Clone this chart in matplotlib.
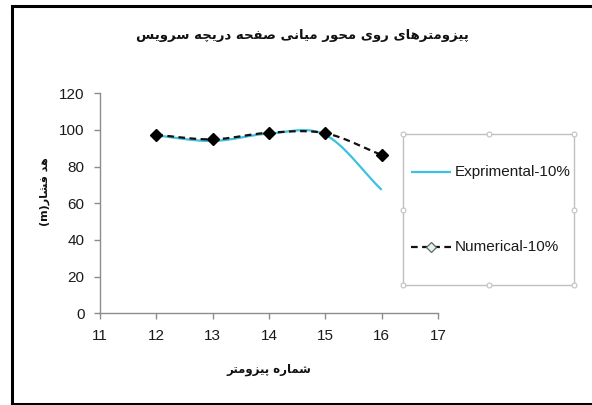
import matplotlib
matplotlib.use("Agg")
import matplotlib.pyplot as plt
import numpy as np
from matplotlib.lines import Line2D
from matplotlib.patches import Rectangle

# ---- data ----
piezometers = [12, 13, 14, 15, 16]
experimental = [97.0, 94.0, 98.0, 97.3, 67.3]
numerical = [97.3, 94.9, 98.5, 98.2, 86.4]
series_labels = ["Exprimental-10%", "Numerical-10%"]
x_ticks = [11, 12, 13, 14, 15, 16, 17]
y_ticks = [0, 20, 40, 60, 80, 100, 120]
title_text = "پیزومترهای روی محور میانی صفحه دریچه سرویس"
xlabel_text = "شماره پیزومتر"
ylabel_text = "هد فشار"
ylabel_unit = "(m)"

# ---- minimal Arabic/Persian shaping (presentation forms + visual order) ----
# forms: isolated, final, initial, medial
FORMS = {
    "ا": ("\uFE8D", "\uFE8E", None, None),
    "د": ("\uFEA9", "\uFEAA", None, None),
    "ر": ("\uFEAD", "\uFEAE", None, None),
    "ز": ("\uFEAF", "\uFEB0", None, None),
    "و": ("\uFEED", "\uFEEE", None, None),
    "ب": ("\uFE8F", "\uFE90", "\uFE91", "\uFE92"),
    "پ": ("\uFB56", "\uFB57", "\uFB58", "\uFB59"),
    "ت": ("\uFE95", "\uFE96", "\uFE97", "\uFE98"),
    "ح": ("\uFEA1", "\uFEA2", "\uFEA3", "\uFEA4"),
    "چ": ("\uFB7A", "\uFB7B", "\uFB7C", "\uFB7D"),
    "س": ("\uFEB1", "\uFEB2", "\uFEB3", "\uFEB4"),
    "ش": ("\uFEB5", "\uFEB6", "\uFEB7", "\uFEB8"),
    "ص": ("\uFEB9", "\uFEBA", "\uFEBB", "\uFEBC"),
    "ف": ("\uFED1", "\uFED2", "\uFED3", "\uFED4"),
    "م": ("\uFEE1", "\uFEE2", "\uFEE3", "\uFEE4"),
    "ن": ("\uFEE5", "\uFEE6", "\uFEE7", "\uFEE8"),
    "ه": ("\uFEE9", "\uFEEA", "\uFEEB", "\uFEEC"),
    "ی": ("\uFBFC", "\uFBFD", "\uFBFE", "\uFBFF"),
}


def shape_rtl(text):
    out = []
    n = len(text)
    for i, ch in enumerate(text):
        if ch not in FORMS:
            out.append(ch)
            continue
        forms = FORMS[ch]
        prev = text[i - 1] if i > 0 else None
        nxt = text[i + 1] if i < n - 1 else None
        join_prev = prev in FORMS and FORMS[prev][2] is not None
        join_next = forms[2] is not None and nxt in FORMS
        if join_prev and join_next:
            out.append(forms[3])
        elif join_prev:
            out.append(forms[1])
        elif join_next:
            out.append(forms[2])
        else:
            out.append(forms[0])
    return "".join(reversed(out))


def smooth(xs, ys, n=30):
    """Catmull-Rom curve through the points, like a smoothed spreadsheet line."""
    xs = np.asarray(xs, float)
    ys = np.asarray(ys, float)
    px = np.concatenate([[2 * xs[0] - xs[1]], xs, [2 * xs[-1] - xs[-2]]])
    py = np.concatenate([[2 * ys[0] - ys[1]], ys, [2 * ys[-1] - ys[-2]]])
    cx, cy = [], []
    t = np.linspace(0, 1, n)
    for i in range(1, len(px) - 2):
        for p, c in ((px, cx), (py, cy)):
            p0, p1, p2, p3 = p[i - 1], p[i], p[i + 1], p[i + 2]
            c.extend(0.5 * ((2 * p1) + (-p0 + p2) * t
                            + (2 * p0 - 5 * p1 + 4 * p2 - p3) * t ** 2
                            + (-p0 + 3 * p1 - 3 * p2 + p3) * t ** 3))
    return np.array(cx), np.array(cy)


W, H = 592, 405
fig = plt.figure(figsize=(W / 100, H / 100), dpi=100)
fig.patch.set_facecolor("white")

tick_font = dict(family=["Liberation Sans", "DejaVu Sans"], size=11)
ar_font = ["DejaVu Sans"]

ax = fig.add_axes([100 / W, 1 - 313.3 / H, 338 / W, 220 / H])
ax.set_xlim(11, 17)
ax.set_ylim(0, 120)
ax.set_xticks(x_ticks)
ax.set_yticks(y_ticks)
ax.set_xticklabels([str(v) for v in x_ticks], **tick_font)
ax.set_yticklabels([str(v) for v in y_ticks], **tick_font)
for s in ("top", "right"):
    ax.spines[s].set_visible(False)
for s in ("left", "bottom"):
    ax.spines[s].set_color("#8c8c8c")
    ax.spines[s].set_linewidth(1.0)
ax.tick_params(axis="both", direction="out", length=4, width=1.0,
               color="#8c8c8c", labelcolor="#1a1a1a")
ax.tick_params(axis="y", pad=7)
ax.tick_params(axis="x", pad=7)

exp_style = dict(color="#3fc0dc", lw=1.6, solid_capstyle="butt")
num_style = dict(color="#111111", lw=1.6, ls=(0, (3, 2)))

ex, ey = smooth(piezometers, experimental)
ax.plot(ex, ey, **exp_style, zorder=2)
nx, ny = smooth(piezometers, numerical)
ax.plot(nx, ny, **num_style, zorder=3)
ax.plot(piezometers, numerical, ls="none", marker="D", ms=6.5,
        mfc="#000000", mec="#000000", zorder=4)

# titles
fig.text(302 / W, 1 - 35 / H, shape_rtl(title_text), ha="center", va="center",
         family=ar_font, fontweight="bold", fontsize=9.5, color="#111111")
fig.text(269 / W, 1 - 370 / H, shape_rtl(xlabel_text), ha="center",
         va="center", family=ar_font, fontweight="bold", fontsize=8.5,
         color="#111111")
fig.text(45 / W, 1 - 192 / H, ylabel_unit + shape_rtl(ylabel_text),
         ha="center", va="center", rotation=90, family=ar_font,
         fontweight="bold", fontsize=8, color="#111111")

# legend box (selected frame with sizing handles)
lx0, lx1, ly0, ly1 = 403, 574, 134, 285
frame_col = "#c0c0c0"
fig.add_artist(Rectangle((lx0 / W, 1 - ly1 / H), (lx1 - lx0) / W,
                         (ly1 - ly0) / H, transform=fig.transFigure,
                         fill=False, ec=frame_col, lw=1.0))
for hx in (lx0, (lx0 + lx1) / 2, lx1):
    for hy in (ly0, (ly0 + ly1) / 2, ly1):
        if hx == (lx0 + lx1) / 2 and hy == (ly0 + ly1) / 2:
            continue
        fig.add_artist(Line2D([hx / W], [1 - hy / H], transform=fig.transFigure,
                              ls="none", marker="o", ms=3.5, mfc="white",
                              mec=frame_col, mew=0.8))

leg_font = dict(family=["Liberation Sans", "DejaVu Sans"], size=11,
                color="#1a1a1a")
for label, y, style, marker in ((series_labels[0], 172, exp_style, False),
                                (series_labels[1], 247, num_style, True)):
    fig.add_artist(Line2D([411 / W, 451 / W], [1 - y / H, 1 - y / H],
                          transform=fig.transFigure, **style))
    if marker:
        fig.add_artist(Line2D([431 / W], [1 - y / H], transform=fig.transFigure,
                              ls="none", marker="D", ms=5.5, mfc="#dff3f3",
                              mec="#666666", mew=0.9))
    fig.text(455 / W, 1 - y / H, label, ha="left", va="center", **leg_font)

# outer black border
fig.add_artist(Line2D([12 / W, 12 / W, 600 / W], [1 - 404 / H, 1 - 5.5 / H, 1 - 5.5 / H],
                      transform=fig.transFigure, color="black", lw=2.2,
                      solid_joinstyle="miter"))
fig.add_artist(Line2D([12 / W, 600 / W], [1 - 403.5 / H, 1 - 403.5 / H],
                      transform=fig.transFigure, color="black", lw=2.2))

fig.savefig("out.png", dpi=100, facecolor="white")
